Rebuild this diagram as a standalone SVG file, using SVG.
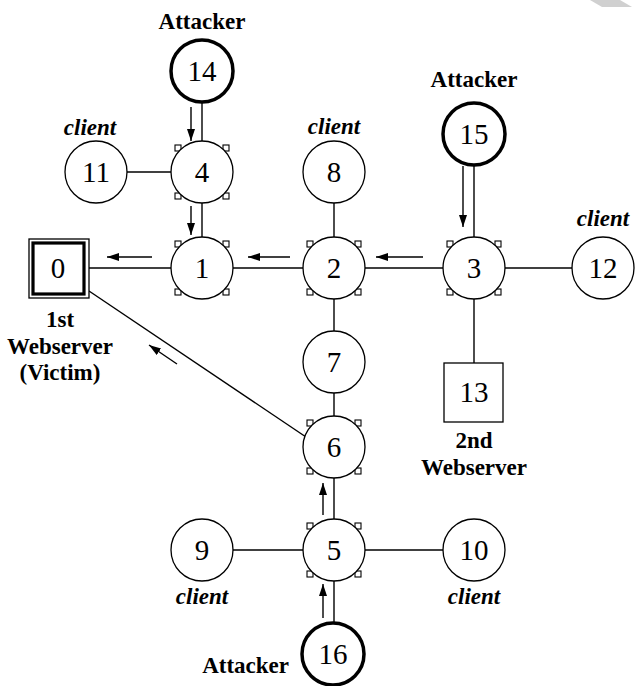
<svg xmlns="http://www.w3.org/2000/svg" width="635" height="686" viewBox="0 0 635 686">
<defs>
<marker id="ah" viewBox="0 0 12 8" refX="12" refY="4" markerWidth="12" markerHeight="8" markerUnits="userSpaceOnUse" orient="auto">
<path d="M0,0 L12,4 L0,8 Z" fill="#000"/>
</marker>
<g id="corners">
<rect x="-27" y="-27" width="6" height="6"/>
<rect x="21" y="-27" width="6" height="6"/>
<rect x="-27" y="21" width="6" height="6"/>
<rect x="21" y="21" width="6" height="6"/>
</g>
</defs>
<style>
.n{fill:#fff;stroke:#000;stroke-width:1.3}
.t{fill:#fff;stroke:#000;stroke-width:3.5}
.c{fill:#fff;stroke:#000;stroke-width:1.1}
.num{font-family:"Liberation Serif",serif;font-size:29px;text-anchor:middle;fill:#000}
.lb{font-family:"Liberation Serif",serif;font-size:23px;font-weight:bold;text-anchor:middle;fill:#000}
.li{font-family:"Liberation Serif",serif;font-size:23px;font-weight:bold;font-style:italic;text-anchor:middle;fill:#000}
.e{stroke:#000;stroke-width:1.4;fill:none}
.a{stroke:#000;stroke-width:1.4;fill:none;marker-end:url(#ah)}
</style>
<rect width="635" height="686" fill="#fff"/>
<polygon points="590,0 620,0 632,7 602,7" fill="#d0d0d0"/>
<g id="connectors">
<line class="e" x1="202" y1="71" x2="202" y2="268"/>
<line class="e" x1="96" y1="172" x2="202" y2="172"/>
<line class="e" x1="89" y1="268" x2="603" y2="268"/>
<line class="e" x1="334" y1="172" x2="334" y2="654"/>
<line class="e" x1="474" y1="134" x2="474" y2="363"/>
<line class="e" x1="202" y1="550" x2="474" y2="550"/>
<line class="e" x1="89" y1="291" x2="306" y2="437"/>
<line class="a" x1="191" y1="107" x2="191" y2="141"/>
<line class="a" x1="191" y1="206" x2="191" y2="235"/>
<line class="a" x1="152" y1="257" x2="107" y2="257"/>
<line class="a" x1="290" y1="257" x2="248" y2="257"/>
<line class="a" x1="423" y1="257" x2="376" y2="257"/>
<line class="a" x1="463" y1="166" x2="463" y2="227"/>
<line class="a" x1="177" y1="364" x2="149" y2="345"/>
<line class="a" x1="323" y1="515" x2="323" y2="483"/>
<line class="a" x1="323" y1="618" x2="323" y2="584"/>
</g>
<g id="node0">
<rect class="n" x="29" y="239" width="60" height="59"/>
<rect x="33" y="243" width="51" height="51" fill="#fff" stroke="#000" stroke-width="3.2"/>
<text class="num" x="58" y="278">0</text>
<text class="lb" x="60" y="327">1st</text>
<text class="lb" x="60" y="354">Webserver</text>
<text class="lb" x="60" y="380">(Victim)</text>
</g>
<g id="node1"><use href="#corners" x="202" y="268" class="c"/><circle class="n" cx="202" cy="268" r="31"/><text class="num" x="202" y="278">1</text></g>
<g id="node2"><use href="#corners" x="334" y="268" class="c"/><circle class="n" cx="334" cy="268" r="31"/><text class="num" x="334" y="278">2</text></g>
<g id="node3"><use href="#corners" x="474" y="268" class="c"/><circle class="n" cx="474" cy="268" r="31"/><text class="num" x="474" y="278">3</text></g>
<g id="node4"><use href="#corners" x="202" y="172" class="c"/><circle class="n" cx="202" cy="172" r="31"/><text class="num" x="202" y="182">4</text></g>
<g id="node5"><use href="#corners" x="334" y="550" class="c"/><circle class="n" cx="334" cy="550" r="31"/><text class="num" x="334" y="560">5</text></g>
<g id="node6"><use href="#corners" x="334" y="447" class="c"/><circle class="n" cx="334" cy="447" r="31"/><text class="num" x="334" y="457">6</text></g>
<g id="node7"><circle class="n" cx="334" cy="362" r="31"/><text class="num" x="334" y="372">7</text></g>
<g id="node8"><circle class="n" cx="334" cy="172" r="31"/><text class="num" x="334" y="182">8</text><text class="li" x="334" y="134">client</text></g>
<g id="node9"><circle class="n" cx="202" cy="550" r="31"/><text class="num" x="202" y="560">9</text><text class="li" x="202" y="604">client</text></g>
<g id="node10"><circle class="n" cx="474" cy="550" r="31"/><text class="num" x="474" y="560">10</text><text class="li" x="474" y="604">client</text></g>
<g id="node11"><circle class="n" cx="96" cy="172" r="31"/><text class="num" x="96" y="182">11</text><text class="li" x="90" y="135">client</text></g>
<g id="node12"><circle class="n" cx="603" cy="268" r="31"/><text class="num" x="603" y="278">12</text><text class="li" x="603" y="226">client</text></g>
<g id="node13"><rect class="n" x="444" y="363" width="59" height="59"/><text class="num" x="474" y="402">13</text><text class="lb" x="474" y="448">2nd</text><text class="lb" x="474" y="475">Webserver</text></g>
<g id="node14"><circle class="t" cx="202" cy="71" r="31"/><text class="num" x="202" y="81">14</text><text class="lb" x="202" y="29">Attacker</text></g>
<g id="node15"><circle class="t" cx="474" cy="134" r="31"/><text class="num" x="474" y="144">15</text><text class="lb" x="474" y="87">Attacker</text></g>
<g id="node16"><circle class="t" cx="333" cy="654" r="31"/><text class="num" x="333" y="664">16</text><text class="lb" x="289" y="673" style="text-anchor:end">Attacker</text></g>
</svg>
